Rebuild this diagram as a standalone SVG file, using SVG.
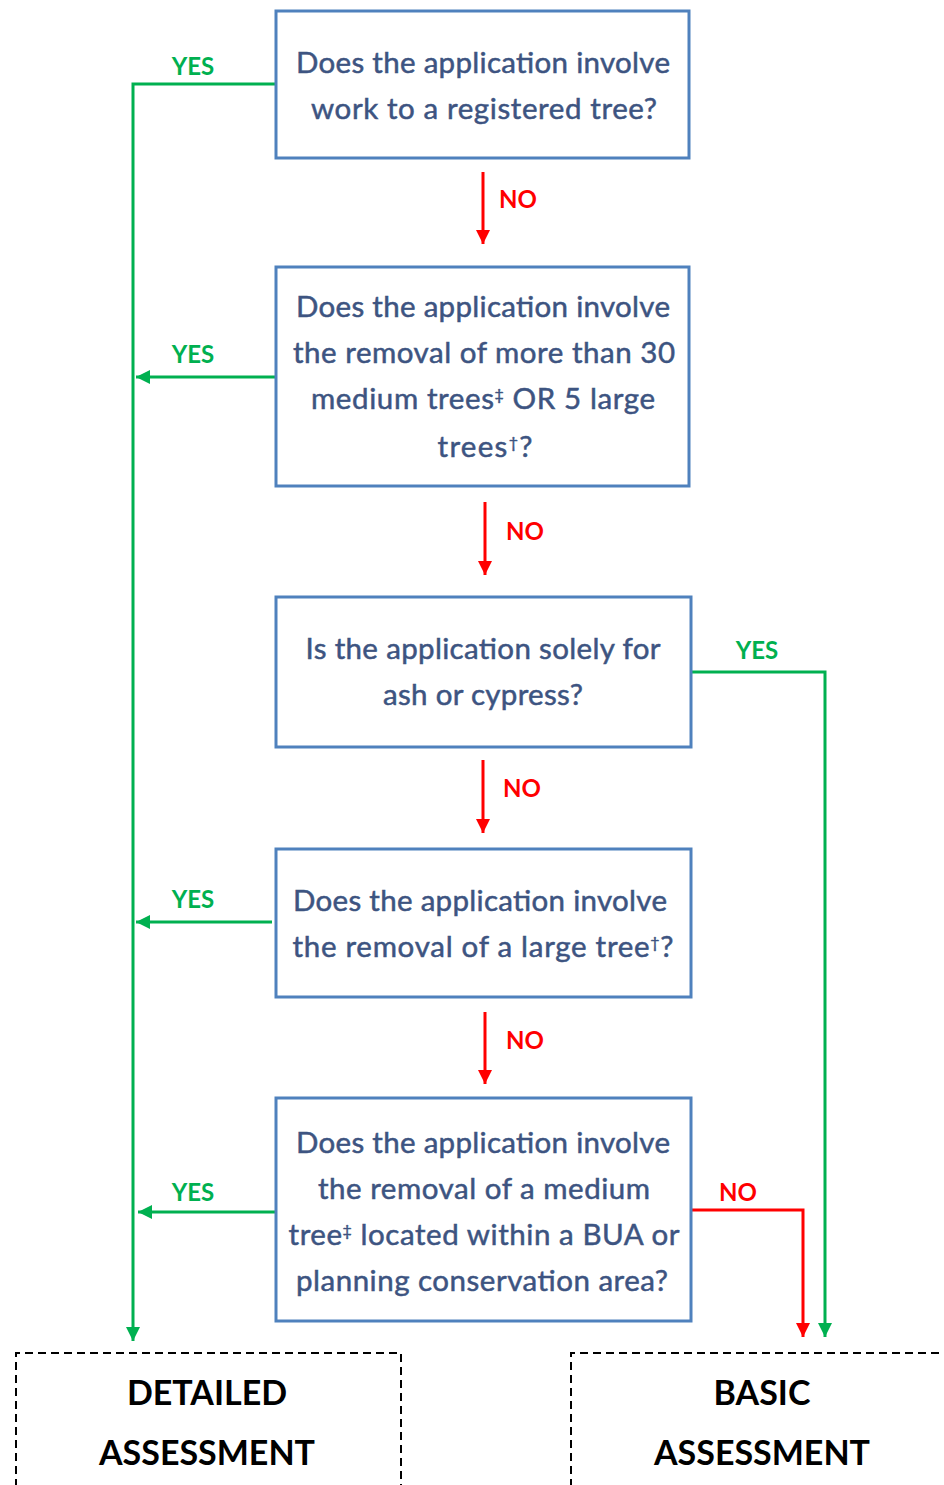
<svg xmlns="http://www.w3.org/2000/svg" width="944" height="1485" viewBox="0 0 944 1485">
<style>
.box{fill:#fff;stroke:#4F81BD;stroke-width:3}
.q{font-family:Lato,"Liberation Sans",sans-serif;font-size:29.5px;fill:#3d5481;stroke:#3d5481;stroke-width:0.5;text-anchor:middle}
.sup{font-size:16px}
.dash{fill:none;stroke:#000;stroke-width:2;stroke-dasharray:8 5}
.res{font-family:Lato,"Liberation Sans",sans-serif;font-size:34px;font-weight:bold;fill:#000;text-anchor:middle}
.g{fill:none;stroke:#00B050;stroke-width:3}
.r{fill:none;stroke:#FF0000;stroke-width:3}
.yl{font-family:Lato,"Liberation Sans",sans-serif;font-size:24px;font-weight:bold;fill:#00B050;text-anchor:middle}
.nl{font-family:Lato,"Liberation Sans",sans-serif;font-size:24px;font-weight:bold;fill:#FF0000;text-anchor:middle}
</style>
<defs>
<marker id="ag" viewBox="0 0 10 10" refX="10" refY="5" markerWidth="4.8" markerHeight="4.8" orient="auto" markerUnits="strokeWidth"><path d="M0,0 L10,5 L0,10 z" fill="#00B050"/></marker>
<marker id="ar" viewBox="0 0 10 10" refX="10" refY="5" markerWidth="4.8" markerHeight="4.8" orient="auto" markerUnits="strokeWidth"><path d="M0,0 L10,5 L0,10 z" fill="#FF0000"/></marker>
</defs>

<g id="connectors">
<path class="g" d="M276,84 H133 V1341" marker-end="url(#ag)"/>
<path class="g" d="M276,377 H136" marker-end="url(#ag)"/>
<path class="g" d="M272,922 H136" marker-end="url(#ag)"/>
<path class="g" d="M276,1212 H138" marker-end="url(#ag)"/>
<path class="g" d="M691,672 H825 V1337" marker-end="url(#ag)"/>
<path class="r" d="M691,1210 H803 V1337" marker-end="url(#ar)"/>
<path class="r" d="M483,172 V244" marker-end="url(#ar)"/>
<path class="r" d="M485,502 V575" marker-end="url(#ar)"/>
<path class="r" d="M483,760 V833" marker-end="url(#ar)"/>
<path class="r" d="M485,1012 V1084" marker-end="url(#ar)"/>
<text class="yl" x="193" y="75">YES</text>
<text class="yl" x="193" y="363">YES</text>
<text class="yl" x="757" y="659">YES</text>
<text class="yl" x="193" y="908">YES</text>
<text class="yl" x="193" y="1201">YES</text>
<text class="nl" x="518" y="208">NO</text>
<text class="nl" x="525" y="540">NO</text>
<text class="nl" x="522" y="797">NO</text>
<text class="nl" x="525" y="1049">NO</text>
<text class="nl" x="738" y="1201">NO</text>
</g>

<g id="q1">
<rect class="box" x="276" y="11" width="413" height="147"/>
<text class="q" x="483" y="73" textLength="374">Does the application involve</text>
<text class="q" x="484" y="119" textLength="346">work to a registered tree?</text>
</g>

<g id="q2">
<rect class="box" x="276" y="267" width="413" height="219"/>
<text class="q" x="483" y="317" textLength="374">Does the application involve</text>
<text class="q" x="484" y="363" textLength="382">the removal of more than 30</text>
<text class="q" x="483" y="409" textLength="344">medium trees<tspan class="sup" dy="-9">‡</tspan><tspan dy="9"> OR 5 large</tspan></text>
<text class="q" x="485" y="457" textLength="95">trees<tspan class="sup" dy="-9">†</tspan><tspan dy="9">?</tspan></text>
</g>

<g id="q3">
<rect class="box" x="276" y="597" width="415" height="150"/>
<text class="q" x="483" y="659" textLength="355">Is the application solely for</text>
<text class="q" x="483" y="705" textLength="200">ash or cypress?</text>
</g>

<g id="q4">
<rect class="box" x="276" y="849" width="415" height="148"/>
<text class="q" x="480" y="911" textLength="374">Does the application involve</text>
<text class="q" x="483" y="957" textLength="381">the removal of a large tree<tspan class="sup" dy="-9">†</tspan><tspan dy="9">?</tspan></text>
</g>

<g id="q5">
<rect class="box" x="276" y="1098" width="415" height="223"/>
<text class="q" x="483" y="1153" textLength="374">Does the application involve</text>
<text class="q" x="484" y="1199" textLength="332">the removal of a medium</text>
<text class="q" x="484" y="1245" textLength="391">tree<tspan class="sup" dy="-9">‡</tspan><tspan dy="9"> located within a BUA or</tspan></text>
<text class="q" x="482" y="1291" textLength="372">planning conservation area?</text>
</g>

<g id="detailed">
<path class="dash" d="M16,1487 V1353 H401 V1487"/>
<text class="res" x="207" y="1405">DETAILED</text>
<text class="res" x="207" y="1465">ASSESSMENT</text>
</g>

<g id="basic">
<path class="dash" d="M571,1487 V1353 H946"/>
<text class="res" x="762" y="1405">BASIC</text>
<text class="res" x="762" y="1465">ASSESSMENT</text>
</g>
</svg>
